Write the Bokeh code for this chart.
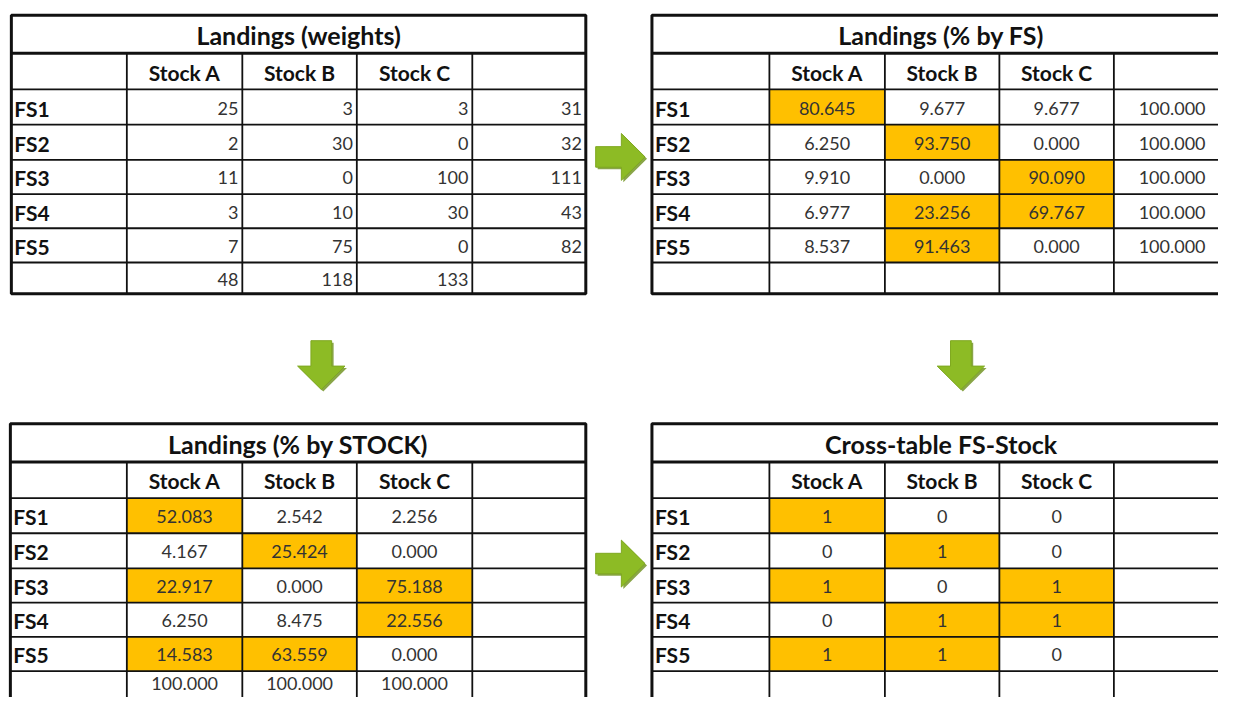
from bokeh.plotting import figure
from bokeh.models import Range1d
from bokeh.embed import file_html
from bokeh.resources import INLINE
from bokeh.core.properties import value

# ---------------- data ----------------
stocks = ["Stock A", "Stock B", "Stock C"]
fishing_systems = ["FS1", "FS2", "FS3", "FS4", "FS5"]

weights = [[25, 3, 3], [2, 30, 0], [11, 0, 100], [3, 10, 30], [7, 75, 0]]
weight_row_totals = [31, 32, 111, 43, 82]
weight_col_totals = [48, 118, 133]

pct_by_fs = [[80.645, 9.677, 9.677], [6.250, 93.750, 0.000], [9.910, 0.000, 90.090],
             [6.977, 23.256, 69.767], [8.537, 91.463, 0.000]]
pct_by_fs_row_totals = [100.000, 100.000, 100.000, 100.000, 100.000]
highlight_by_fs = [[1, 0, 0], [0, 1, 0], [0, 0, 1], [0, 1, 1], [0, 1, 0]]

pct_by_stock = [[52.083, 2.542, 2.256], [4.167, 25.424, 0.000], [22.917, 0.000, 75.188],
                [6.250, 8.475, 22.556], [14.583, 63.559, 0.000]]
pct_by_stock_col_totals = [100.000, 100.000, 100.000]
highlight_by_stock = [[1, 0, 0], [0, 1, 0], [1, 0, 1], [0, 0, 1], [1, 1, 0]]

cross_table = [[1, 0, 0], [0, 1, 0], [1, 0, 1], [0, 1, 1], [1, 1, 0]]

titles = ["Landings (weights)", "Landings (% by FS)", "Landings (% by STOCK)", "Cross-table FS-Stock"]

# ---------------- styles / layout ----------------
FONT = "Lato"
HL = "#FFC000"
LINE = "#111111"
TXT = "#333333"
GREEN = "#8DBB25"
GREEN_DARK = "#6B8E1A"
VIEW_W, VIEW_H = 1234, 713   # reference canvas, in its own pixel units
TEXT_Y_MAX = 699             # keep the lowest texts inside the visible area

p = figure(width=1218, height=697, x_range=Range1d(0, VIEW_W), y_range=Range1d(VIEW_H, 0),
           output_backend="svg", toolbar_location=None,
           x_axis_location=None, y_axis_location=None)
p.min_border = 0
p.grid.visible = False
p.outline_line_color = None
p.background_fill_color = "white"
p.border_fill_color = "white"


def draw_table(xs, ys, title, cells, fmt, align, row_totals=None, col_totals=None, highlight=None):
    # highlighted cells
    if highlight:
        L, R, T, B = [], [], [], []
        for i in range(len(cells)):
            for j in range(len(cells[i])):
                if highlight[i][j]:
                    L.append(xs[j + 1]); R.append(xs[j + 2])
                    T.append(ys[i + 2]); B.append(ys[i + 3])
        p.quad(left=L, right=R, top=T, bottom=B, fill_color=HL, line_color=None)

    # title
    p.text(x=[(xs[0] + xs[-1]) / 2], y=[(ys[0] + ys[1]) / 2 + 1], text=[title],
           text_font=value(FONT), text_font_style="bold", text_font_size="25px",
           text_align="center", text_baseline="middle", text_color="#111111")
    # headers
    p.text(x=[(xs[j + 1] + xs[j + 2]) / 2 for j in range(len(stocks))],
           y=[(ys[1] + ys[2]) / 2 + 1] * len(stocks), text=stocks,
           text_font=value(FONT), text_font_style="bold", text_font_size="21px",
           text_align="center", text_baseline="middle", text_color="#111111")
    # row labels
    p.text(x=[xs[0] + 3] * len(fishing_systems),
           y=[(ys[i + 2] + ys[i + 3]) / 2 + 1 for i in range(len(fishing_systems))],
           text=fishing_systems, text_font=value(FONT), text_font_style="bold",
           text_font_size="21px", text_align="left", text_baseline="middle", text_color="#111111")

    # values
    X, Y, S = [], [], []

    def put(col, row, v):
        if align == "right":
            X.append(xs[col + 2] - 4)
        else:
            X.append((xs[col + 1] + xs[col + 2]) / 2)
        Y.append(min((ys[row + 2] + ys[row + 3]) / 2 + 1, TEXT_Y_MAX))
        S.append(fmt.format(v))

    for i, row in enumerate(cells):
        for j, v in enumerate(row):
            put(j, i, v)
    if row_totals:
        for i, v in enumerate(row_totals):
            put(3, i, v)
    if col_totals:
        for j, v in enumerate(col_totals):
            put(j, 5, v)
    p.text(x=X, y=Y, text=S, text_font=value(FONT), text_font_size="18px",
           text_align=align, text_baseline="middle", text_color=TXT)

    # inner lines
    hy = ys[2:-1]
    p.segment(x0=[xs[0]] * len(hy), y0=hy, x1=[xs[-1]] * len(hy), y1=hy,
              line_color=LINE, line_width=1.8)
    vx = xs[1:-1]
    p.segment(x0=vx, y0=[ys[1]] * len(vx), x1=vx, y1=[ys[-1]] * len(vx),
              line_color=LINE, line_width=1.8)
    # title separator
    p.segment(x0=[xs[0]], y0=[ys[1]], x1=[xs[-1]], y1=[ys[1]], line_color=LINE, line_width=3)
    # outer border
    p.quad(left=[xs[0]], right=[xs[-1]], top=[ys[0]], bottom=[ys[-1]],
           fill_color=None, line_color=LINE, line_width=3)


left_cols = [11, 128, 245, 361, 478, 593]
right_cols = [660, 779, 896, 1012, 1128, 1246]
top_rows = [15, 54, 91, 127, 163, 198, 233, 268, 300]
bottom_rows = [433, 472, 509, 545, 581, 616, 651, 686, 722]

draw_table(left_cols, top_rows, titles[0], weights, "{:d}", "right",
           row_totals=weight_row_totals, col_totals=weight_col_totals)
draw_table(right_cols, top_rows, titles[1], pct_by_fs, "{:.3f}", "center",
           row_totals=pct_by_fs_row_totals, highlight=highlight_by_fs)
draw_table([10] + left_cols[1:], bottom_rows, titles[2], pct_by_stock, "{:.3f}", "center",
           col_totals=pct_by_stock_col_totals, highlight=highlight_by_stock)
draw_table(right_cols, bottom_rows, titles[3], cross_table, "{:d}", "center",
           highlight=cross_table)


# ---------------- arrows ----------------
def arrow_shape(cx, cy, direction, length=50, shaft=21, head=48, head_len=24):
    a0 = -length / 2
    ah = length / 2 - head_len
    a1 = length / 2
    along = [a0, ah, ah, a1, ah, ah, a0]
    across = [-shaft / 2, -shaft / 2, -head / 2, 0, head / 2, shaft / 2, shaft / 2]
    if direction == "right":
        return [cx + a for a in along], [cy + c for c in across]
    return [cx + c for c in across], [cy + a for a in along]


arrows = [(628, 160, "right"), (628, 576, "right"), (325, 373, "down"), (973, 373, "down")]
for cx, cy, d in arrows:
    sx, sy = arrow_shape(cx + 2, cy + 2, d)
    p.patch(sx, sy, fill_color=GREEN_DARK, line_color=None, fill_alpha=0.8)
    ax, ay = arrow_shape(cx, cy, d)
    p.patch(ax, ay, fill_color=GREEN, line_color="#7FA820", line_width=1)

open("out.html", "w").write(file_html(p, INLINE))
